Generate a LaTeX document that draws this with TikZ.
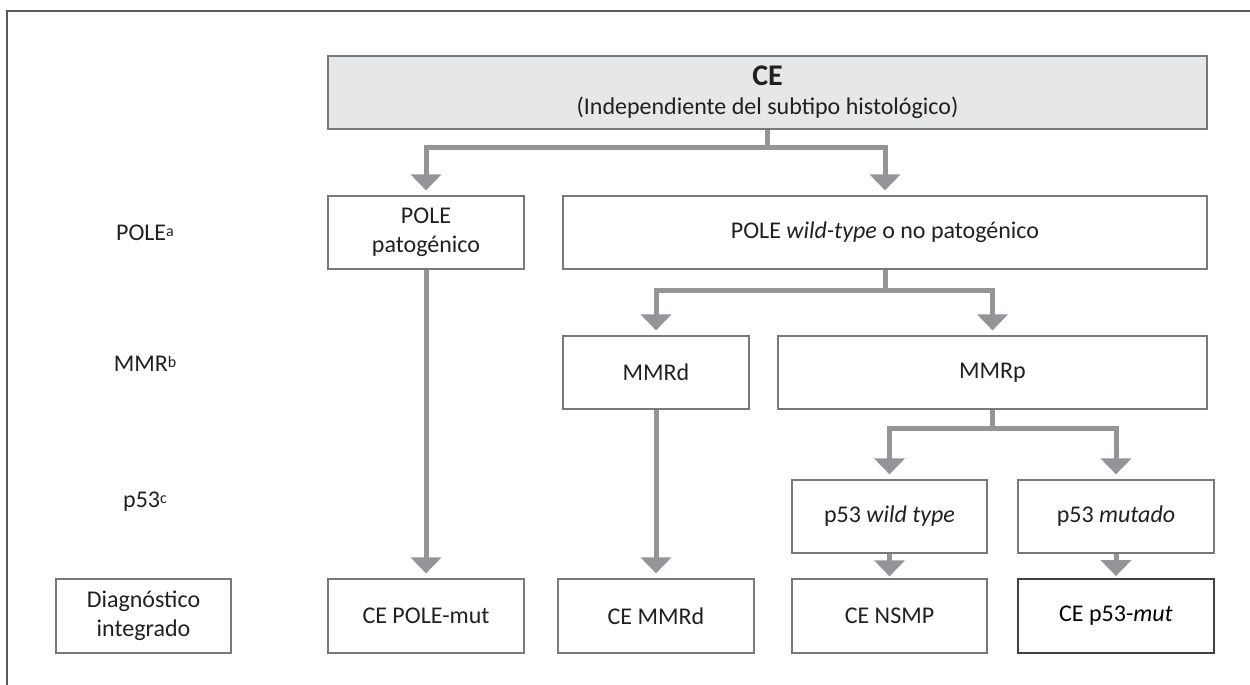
\documentclass[tikz,border=0pt]{standalone}
\usepackage{fontspec}
\setmainfont{Carlito}
\usetikzlibrary{arrows.meta}
\definecolor{boxline}{HTML}{77787B}
\definecolor{darkline}{HTML}{414042}
\definecolor{arrowgray}{HTML}{939598}
\definecolor{cefill}{HTML}{E6E7E8}
\definecolor{framecol}{HTML}{58595B}
\definecolor{txt}{HTML}{231F20}
\newcommand{\supmark}[1]{\raisebox{4pt}{\fontsize{16}{16}\selectfont #1}}
\begin{document}
\begin{tikzpicture}[x=1pt,y=-1pt,
  every node/.style={font=\fontsize{24}{29}\selectfont, text=txt},
  box/.style={draw=boxline, line width=1.2pt, inner sep=0pt, minimum height=73pt, align=center},
  lbl/.style={inner sep=0pt},
  conn/.style={draw=arrowgray, line width=5pt, -{Triangle[width=30pt,length=16pt]}, shorten >=5pt},
  stemline/.style={draw=arrowgray, line width=5pt},
  frameline/.style={draw=framecol, line width=1.5pt}
]
\useasboundingbox (0,0) rectangle (1250,685);
% frame
\draw[frameline] (7,685) -- (7,11) -- (1250,11);

% top box
\node[box, fill=cefill, minimum width=879pt] (ce) at (767.5,92.5)
  {\textbf{\fontsize{30}{30}\selectfont CE}\\(Independiente del subtipo histológico)};

% POLE level
\node[box, minimum width=196pt] (polep) at (426,232.5) {POLE\\patogénico};
\node[box, minimum width=644pt] (polewt) at (885,232.5) {POLE \textit{wild-type} o no patogénico};

% MMR level
\node[box, minimum width=186pt] (mmrd) at (656,372.5) {MMRd};
\node[box, minimum width=429pt] (mmrp) at (992.5,372.5) {MMRp};

% p53 level
\node[box, minimum width=195pt] (p53wt) at (889.5,516.5) {p53 \textit{wild type}};
\node[box, minimum width=196pt] (p53mut) at (1116,516.5) {p53 \textit{mutado}};

% diagnosis level
\node[box, minimum width=175pt, minimum height=74pt] (diag) at (143.5,616) {Diagnóstico\\integrado};
\node[box, minimum width=196pt, minimum height=74pt] (cepole) at (426,616) {CE POLE-mut};
\node[box, minimum width=196pt, minimum height=74pt] (cemmrd) at (656,616) {CE MMRd};
\node[box, minimum width=195pt, minimum height=74pt] (censmp) at (889.5,616) {CE NSMP};
\node[box, draw=darkline, line width=1.8pt, text=black, minimum width=196pt, minimum height=74pt] (cep53) at (1116,616) {CE p53-\textit{mut}};

% row labels
\node[lbl] (lpole) at (145,233) {POLE\supmark{a}};
\node[lbl] (lmmr) at (145,364) {MMR\supmark{b}};
\node[lbl] (lp53) at (145,502) {p53\supmark{c}};

% connectors
\path (ce.south) ++(0,18) coordinate (b1);
\draw[stemline] (ce.south) -- (b1);
\draw[conn] (b1) -| (polep.north);
\draw[conn] (b1) -| (polewt.north);

\path (polewt.south) ++(0,21) coordinate (b2);
\draw[stemline] (polewt.south) -- (b2);
\draw[conn] (b2) -| (mmrd.north);
\draw[conn] (b2) -| (mmrp.north);

\path (mmrp.south) ++(0,19) coordinate (b3);
\draw[stemline] (mmrp.south) -- (b3);
\draw[conn] (b3) -| (p53wt.north);
\draw[conn] (b3) -| (p53mut.north);

\draw[conn] (polep.south) -- (cepole.north);
\draw[conn] (mmrd.south) -- (cemmrd.north);
\draw[conn, shorten >=2pt] (p53wt.south) -- (censmp.north);
\draw[conn, shorten >=2pt] (p53mut.south) -- (cep53.north);
\end{tikzpicture}
\end{document}
